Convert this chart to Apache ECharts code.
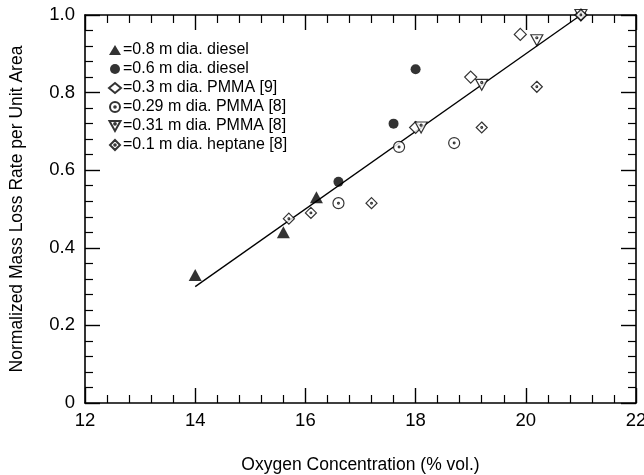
<!DOCTYPE html>
<html>
<head>
<meta charset="utf-8">
<script src="https://cdn.jsdelivr.net/npm/echarts@6/dist/echarts.min.js"></script>
<style>html,body{margin:0;padding:0;background:#fff}#c{width:644px;height:475px}</style>
</head>
<body>
<div id="c"></div>
<script>
// Data
const diesel08 = [[14.0, 0.33], [15.6, 0.44], [16.2, 0.53]];
const diesel06 = [[16.6, 0.57], [17.6, 0.72], [18.0, 0.86]];
const pmma03 = [[18.0, 0.71], [19.0, 0.84], [19.9, 0.95], [21.0, 1.0]];
const pmma029 = [[16.6, 0.515], [17.7, 0.66], [18.7, 0.67]];
const pmma031 = [[18.1, 0.71], [19.2, 0.82], [20.2, 0.935], [21.0, 1.0]];
const heptane01 = [[15.7, 0.475], [16.1, 0.49], [17.2, 0.515], [19.2, 0.71], [20.2, 0.815], [21.0, 1.0]];
const fitLine = [[14.0, 0.30], [21.0, 1.0]];
const seriesNames = ['0.8 m dia. diesel', '0.6 m dia. diesel', '0.3 m dia. PMMA [9]', '0.29 m dia. PMMA [8]', '0.31 m dia. PMMA [8]', '0.1 m dia. heptane [8]'];
const xTitle = 'Oxygen Concentration (% vol.)';
const yTitle = 'Normalized Mass Loss Rate per Unit Area';

const FONT = '"Liberation Sans", Arial, Helvetica, sans-serif';
const dot = 'M0,-1.6A1.6,1.6 0 1 1 0,1.6A1.6,1.6 0 1 1 0,-1.6Z';
const circleDot = 'path://M0,-10A10,10 0 1 1 0,10A10,10 0 1 1 0,-10Z' + dot;
const diamondDot = 'path://M0,-10L10,0L0,10L-10,0Z' + dot;
const triDownDot = 'path://M-10,-8L10,-8L0,10ZM0,-4.6A1.6,1.6 0 1 1 0,-1.4A1.6,1.6 0 1 1 0,-4.6Z';

const openStyle = {color: '#fff', borderColor: '#000', borderWidth: 1.2};
const axisCommon = {
  axisLine: {show: true, onZero: false, lineStyle: {color: '#000', width: 1.6}},
  splitLine: {show: false},
  axisTick: {show: true, inside: true, length: 15, lineStyle: {color: '#000', width: 1.4}},
  minorTick: {show: true, splitNumber: 5, length: 8, lineStyle: {color: '#000', width: 1.2}}
};

const chart = echarts.init(document.getElementById('c'), null, {renderer: 'canvas'});
chart.setOption({
  animation: false,
  backgroundColor: '#fff',
  textStyle: {fontFamily: FONT, color: '#000'},
  grid: {left: 85, right: 8, top: 15, bottom: 72, containLabel: false, outerBoundsMode: 'none'},
  legend: {
    data: seriesNames,
    orient: 'vertical',
    left: 103, top: 37,
    itemGap: 3, itemWidth: 12, itemHeight: 10,
    formatter: n => '=' + n,
    textStyle: {fontFamily: FONT, fontSize: 16, lineHeight: 16, color: '#000', padding: [0, 0, 0, -3]}
  },
  xAxis: [
    Object.assign({
      type: 'value', min: 12, max: 22, interval: 2, position: 'bottom',
      name: xTitle, nameLocation: 'middle', nameGap: 53,
      nameTextStyle: {fontFamily: FONT, fontSize: 17.5, color: '#000'},
      axisLabel: {fontFamily: FONT, fontSize: 18.5, color: '#000', margin: 8}
    }, axisCommon),
    Object.assign({
      type: 'value', min: 12, max: 22, interval: 2, position: 'top',
      axisLabel: {show: false}
    }, axisCommon)
  ],
  yAxis: [
    Object.assign({
      type: 'value', min: 0, max: 1, interval: 0.2, position: 'left',
      name: yTitle, nameLocation: 'middle', nameGap: 59,
      nameTextStyle: {fontFamily: FONT, fontSize: 17.5, color: '#000'},
      axisLabel: {fontFamily: FONT, fontSize: 18.5, color: '#000', margin: 10,
        formatter: v => v === 0 ? '0' : v.toFixed(1)}
    }, axisCommon),
    Object.assign({
      type: 'value', min: 0, max: 1, interval: 0.2, position: 'right',
      axisLabel: {show: false}
    }, axisCommon)
  ],
  series: [
    {type: 'line', data: fitLine, symbol: 'none', silent: true, z: 1,
     lineStyle: {color: '#000', width: 1.3}},
    {name: seriesNames[0], type: 'scatter', data: diesel08, symbol: 'triangle', symbolSize: [13, 12],
     itemStyle: {color: '#000'}, z: 3},
    {name: seriesNames[1], type: 'scatter', data: diesel06, symbol: 'circle', symbolSize: 10,
     itemStyle: {color: '#000'}, z: 3},
    {name: seriesNames[2], type: 'scatter', data: pmma03, symbol: 'diamond', symbolSize: 12,
     itemStyle: openStyle, z: 3},
    {name: seriesNames[3], type: 'scatter', data: pmma029, symbol: circleDot, symbolSize: 11,
     itemStyle: openStyle, z: 3},
    {name: seriesNames[4], type: 'scatter', data: pmma031, symbol: triDownDot, symbolSize: [12, 11],
     itemStyle: openStyle, z: 3},
    {name: seriesNames[5], type: 'scatter', data: heptane01, symbol: diamondDot, symbolSize: 11,
     itemStyle: openStyle, z: 4}
  ]
});
</script>
</body>
</html>
